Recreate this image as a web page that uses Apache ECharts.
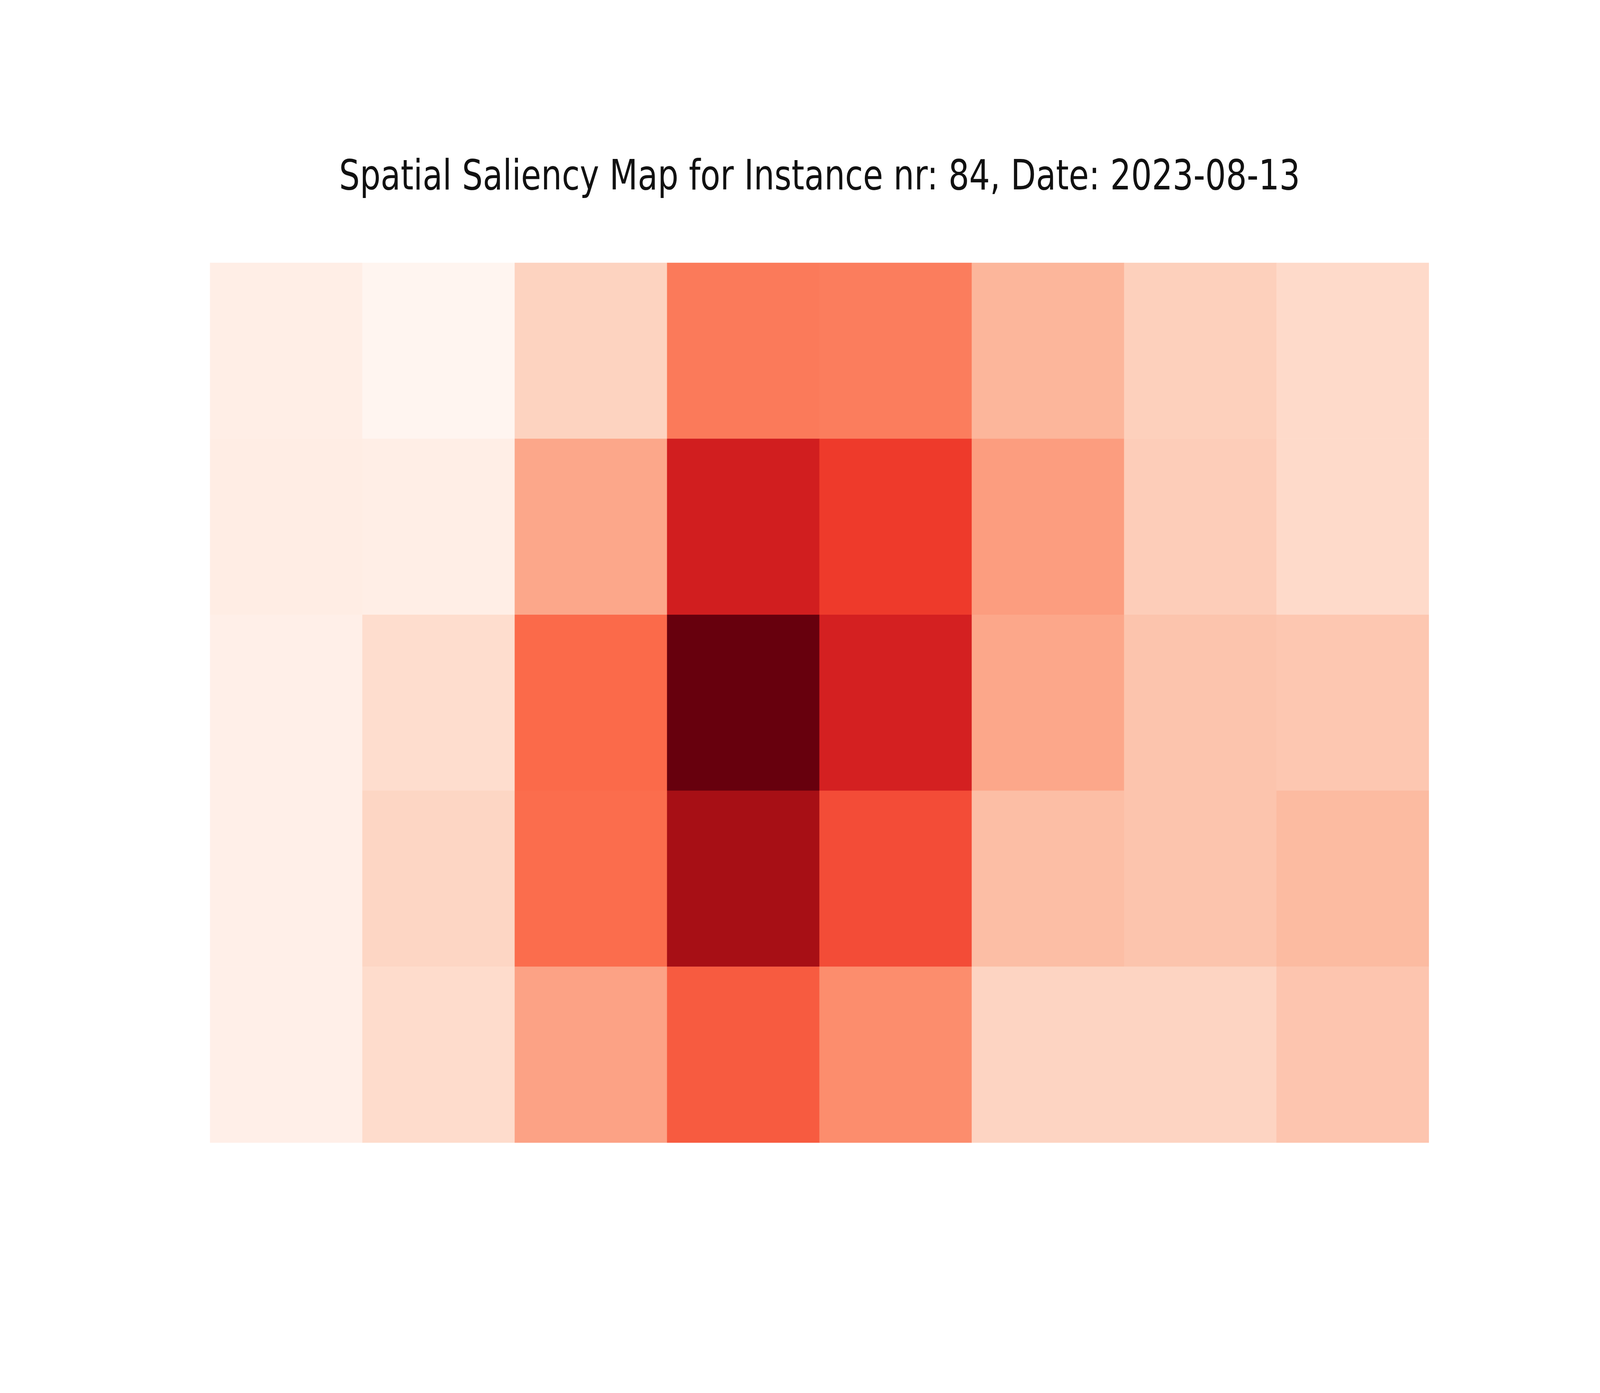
<!DOCTYPE html>
<html><head><meta charset="utf-8">
<style>html,body{margin:0;padding:0;background:#fff;overflow:hidden}#c{width:100vw;height:100vh}</style>
<script src="https://cdn.jsdelivr.net/npm/echarts@6/dist/echarts.min.js"></script>
</head><body><div id="c"></div>
<script>
const titleText = 'Spatial Saliency Map for Instance nr: 84, Date: 2023-08-13';
const columns = ['0','1','2','3','4','5','6','7'];
const rows = ['0','1','2','3','4'];
const row0 = [0.04,0.00,0.17,0.45,0.44,0.265,0.18,0.145];
const row1 = [0.05,0.04,0.31,0.73,0.63,0.34,0.19,0.145];
const row2 = [0.035,0.135,0.50,1.00,0.72,0.31,0.22,0.21];
const row3 = [0.035,0.16,0.49,0.87,0.58,0.24,0.22,0.25];
const row4 = [0.035,0.14,0.325,0.54,0.39,0.165,0.165,0.215];
const matrix = [row0,row1,row2,row3,row4];
const reds = ['#fff5f0','#fee0d2','#fcbba1','#fc9272','#fb6a4a','#ef3b2c','#cb181d','#a50f15','#67000d'];
const cells = [];
matrix.forEach((r,y)=>r.forEach((v,x)=>cells.push([x,y,v])));
const el = document.getElementById('c');
const chart = echarts.init(el,null,{renderer:'canvas'});
const W = chart.getWidth(), H = chart.getHeight();
const sx = W/4730, sy = H/3567;
chart.setOption({
  animation:false,
  backgroundColor:'#fff',
  graphic:{elements:[{type:'text',x:2423*sx,y:511*sy,scaleX:sx/sy,silent:true,
    style:{text:titleText,textAlign:'center',textVerticalAlign:'bottom',
      fontFamily:'DejaVu Sans Condensed',fontWeight:'normal',fontSize:107.4*sy,fill:'#111'}}]},
  grid:{left:621*sx,top:673*sy,width:3603*sx,height:2253*sy,containLabel:false},
  xAxis:{type:'category',data:columns,show:false},
  yAxis:{type:'category',data:rows,inverse:true,show:false},
  visualMap:{show:false,min:0,max:1,dimension:2,inRange:{color:reds}},
  series:[{type:'heatmap',data:cells,itemStyle:{borderWidth:0},emphasis:{disabled:true}}]
});
</script></body></html>
